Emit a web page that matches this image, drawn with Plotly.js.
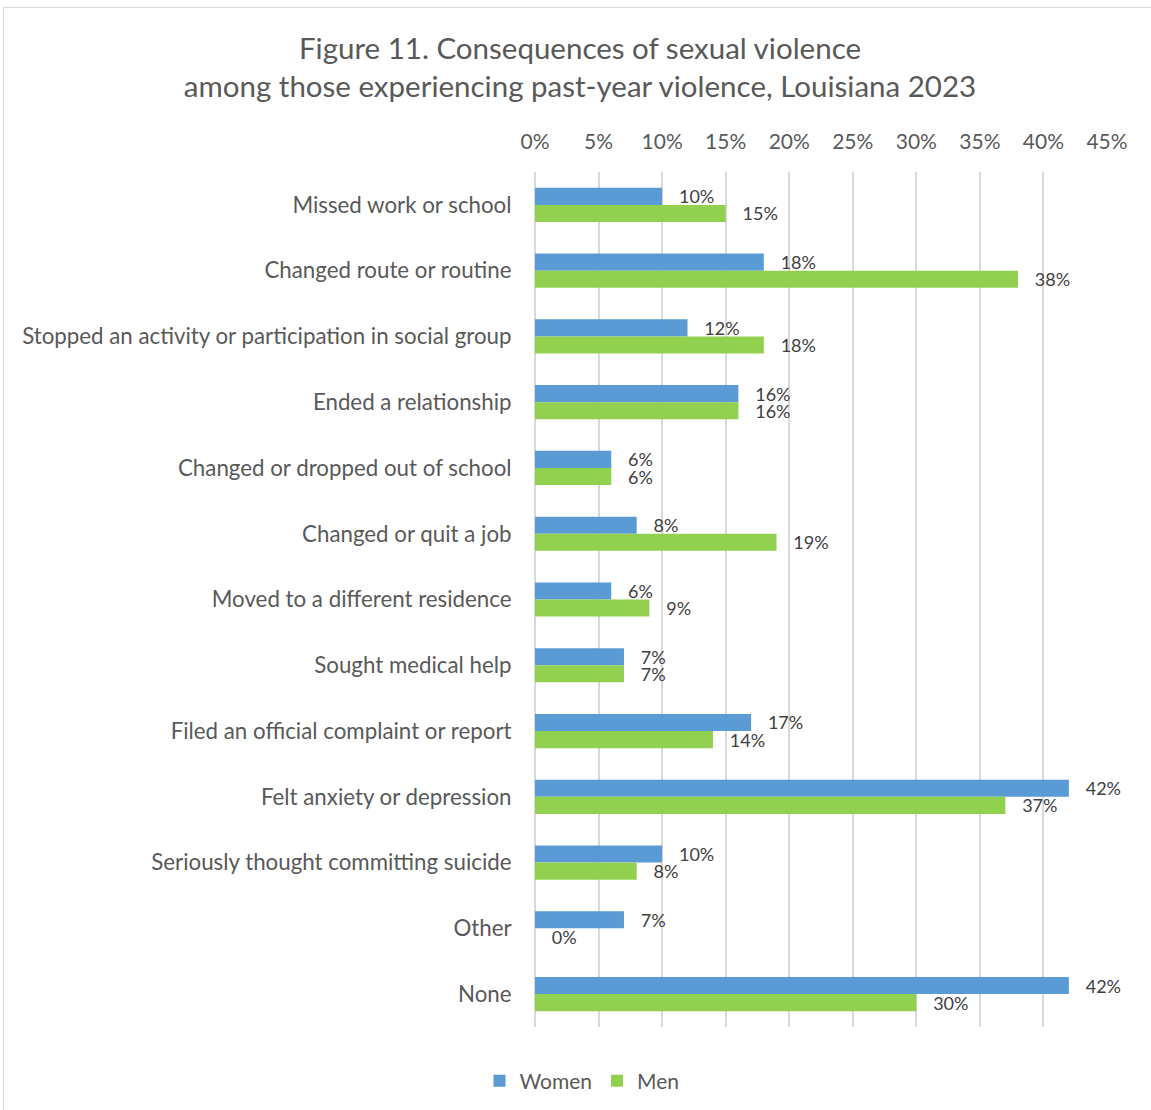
<!DOCTYPE html>
<html>
<head>
<meta charset="utf-8">
<script src="https://cdn.plot.ly/plotly-3.0.1.min.js"></script>
<style>
  html, body { margin: 0; padding: 0; background: #fff; }
  #chart { width: 1151px; height: 1110px; position: relative; }
  #frame { position: absolute; left: 3px; top: 7px; width: 1200px; height: 1200px; border: 1px solid #d9d9d9; pointer-events: none; box-sizing: border-box; }
  #wrap { position: relative; width: 1151px; height: 1110px; overflow: hidden; }
</style>
</head>
<body>
<div id="wrap">
  <div id="chart"></div>
  <div id="frame"></div>
</div>
<script>
const categories = [
  "Missed work or school",
  "Changed route or routine",
  "Stopped an activity or participation in social group",
  "Ended a relationship",
  "Changed or dropped out of school",
  "Changed or quit a job",
  "Moved to a different residence",
  "Sought medical help",
  "Filed an official complaint or report",
  "Felt anxiety or depression",
  "Seriously thought committing suicide",
  "Other",
  "None"
];
const women = [10, 18, 12, 16, 6, 8, 6, 7, 17, 42, 10, 7, 42];
const men   = [15, 38, 18, 16, 6, 19, 9, 7, 14, 37, 8, 0, 30];
const xTicks = [0, 5, 10, 15, 20, 25, 30, 35, 40, 45];

const FONT = "Lato, 'Open Sans', sans-serif";
const pad = "\u00A0\u00A0\u00A0";

const traces = [
  {
    type: "bar", orientation: "h", name: "Women",
    x: women, y: categories,
    marker: { color: "#5B9BD5" },
    text: women.map(v => pad + v + "%"),
    textposition: "outside", constraintext: "none", cliponaxis: false,
    textfont: { family: FONT, size: 18, color: "#404040" },
    hoverinfo: "x+y"
  },
  {
    type: "bar", orientation: "h", name: "Men",
    x: men, y: categories,
    marker: { color: "#92D050" },
    text: men.map(v => pad + v + "%"),
    textposition: "outside", constraintext: "none", cliponaxis: false,
    textfont: { family: FONT, size: 18, color: "#404040" },
    hoverinfo: "x+y"
  }
];

const layout = {
  width: 1151, height: 1110,
  margin: { l: 535, r: 44, t: 172, b: 83 },
  paper_bgcolor: "#fff", plot_bgcolor: "#fff",
  font: { family: FONT, color: "#595959" },
  title: {
    text: "Figure 11. Consequences of sexual violence<br>among those experiencing past-year violence, Louisiana 2023",
    font: { family: FONT, size: 29.5, color: "#595959" },
    x: 580 / 1151, xanchor: "center", xref: "container",
    y: 1 - 59 / 1110, yanchor: "middle", yref: "container"
  },
  barmode: "group",
  bargap: 0.48,
  bargroupgap: 0,
  xaxis: {
    side: "top",
    range: [0, 45],
    tickvals: xTicks,
    ticktext: xTicks.map(v => v + "%"),
    showgrid: true, gridcolor: "#d9d9d9", gridwidth: 2,
    zeroline: true, zerolinecolor: "#d9d9d9", zerolinewidth: 2,
    showline: false,
    ticks: "outside", ticklen: 14, tickcolor: "rgba(0,0,0,0)",
    tickfont: { family: FONT, size: 21, color: "#595959" },
    fixedrange: true
  },
  yaxis: {
    type: "category",
    autorange: "reversed",
    showgrid: false, zeroline: false, showline: false,
    ticks: "outside", ticklen: 18, tickcolor: "rgba(0,0,0,0)",
    tickfont: { family: FONT, size: 22.3, color: "#595959" },
    fixedrange: true
  },
  showlegend: true,
  legend: {
    orientation: "h",
    xref: "container", yref: "container",
    x: 582 / 1151, xanchor: "center",
    y: 1 - 1081 / 1110, yanchor: "middle",
    font: { family: FONT, size: 21, color: "#595959" },
    itemwidth: 30,
    traceorder: "normal"
  }
};

Plotly.newPlot("chart", traces, layout, { displayModeBar: false, staticPlot: true });
</script>
</body>
</html>
